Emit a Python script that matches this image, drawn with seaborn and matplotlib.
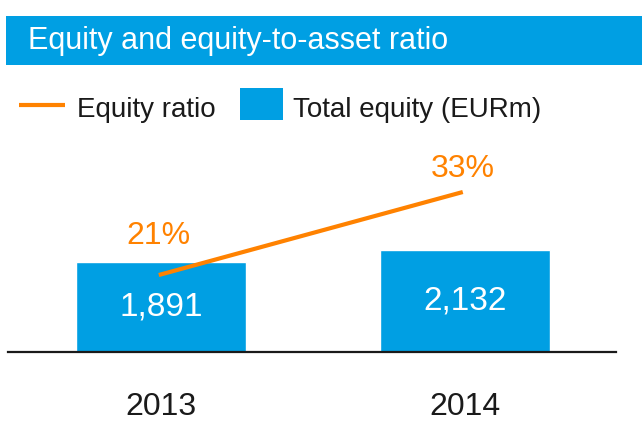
import numpy as np
import pandas as pd
import matplotlib.pyplot as plt
import seaborn as sns
from matplotlib.patches import Rectangle
from matplotlib.lines import Line2D

# values
years = ["2013", "2014"]
total_equity = [1891, 2132]        # EURm
equity_ratio = [21, 33]            # %

BLUE = "#009FE3"
ORANGE = "#FF8200"
DARK = "#1a1a1a"

sns.set_style("white")
plt.rcParams["font.family"] = ["Liberation Sans", "DejaVu Sans"]

W, H = 642, 421
fig = plt.figure(figsize=(W / 100, H / 100), dpi=100)


def fx(px):
    return px / W


def fy(px):
    # pixel row from the top -> figure fraction
    return 1 - px / H


# header banner with the title
fig.add_artist(Rectangle((fx(6), fy(65)), fx(636), 49 / H, transform=fig.transFigure,
                         color=BLUE, lw=0))
fig.text(fx(28), fy(49), "Equity and equity-to-asset ratio", color="white",
         fontsize=22, va="baseline", ha="left")

# legend drawn by hand (line + box)
fig.add_artist(Line2D([fx(19), fx(65)], [fy(104.5), fy(104.5)], transform=fig.transFigure,
                      color=ORANGE, lw=3, solid_capstyle="butt"))
fig.text(fx(77), fy(117), "Equity ratio", color=DARK, fontsize=20, va="baseline")
fig.add_artist(Rectangle((fx(240), fy(120)), fx(43), 32 / H, transform=fig.transFigure,
                         color=BLUE, lw=0))
fig.text(fx(293), fy(117), "Total equity (EURm)", color=DARK, fontsize=20, va="baseline")

# plot area: baseline at y=352px, x from 8 to 616px
ax = fig.add_axes([fx(8), fy(352), fx(608), 212 / H])
df = pd.DataFrame({"year": years, "equity": total_equity, "ratio": equity_ratio})

sns.barplot(data=df, x="year", y="equity", color=BLUE, saturation=1, width=0.56, ax=ax)
ax.bar_label(ax.containers[0], labels=[f"{v:,}" for v in total_equity],
             label_type="center", color="white", fontsize=24)

ax.set_xlim(-0.503, 1.497)
ax.set_ylim(0, 4444)
ax.set_xlabel("")
ax.set_ylabel("")
ax.set_yticks([])
ax.tick_params(axis="x", length=0, pad=29, labelsize=23, labelcolor=DARK)
for side in ["top", "left", "right"]:
    ax.spines[side].set_visible(False)
ax.spines["bottom"].set_color(DARK)
ax.spines["bottom"].set_linewidth(1.6)

# equity ratio on a secondary axis
ax2 = ax.twinx()
sns.lineplot(x=np.arange(len(years)) - 0.007, y=equity_ratio, color=ORANGE, lw=3, ax=ax2)
ax2.lines[0].set_solid_capstyle("butt")
ax2.set_ylim(9.87, 40.52)
ax2.set_yticks([])
for side in ["top", "left", "right", "bottom"]:
    ax2.spines[side].set_visible(False)

pct_offsets = [22, 11]   # points above each line end
for i, (r, off) in enumerate(zip(equity_ratio, pct_offsets)):
    ax2.annotate(f"{r}%", (i - 0.007, r), xytext=(0, off), textcoords="offset points",
                 ha="center", va="baseline", color=ORANGE, fontsize=23)

fig.savefig("out.png", dpi=100)
